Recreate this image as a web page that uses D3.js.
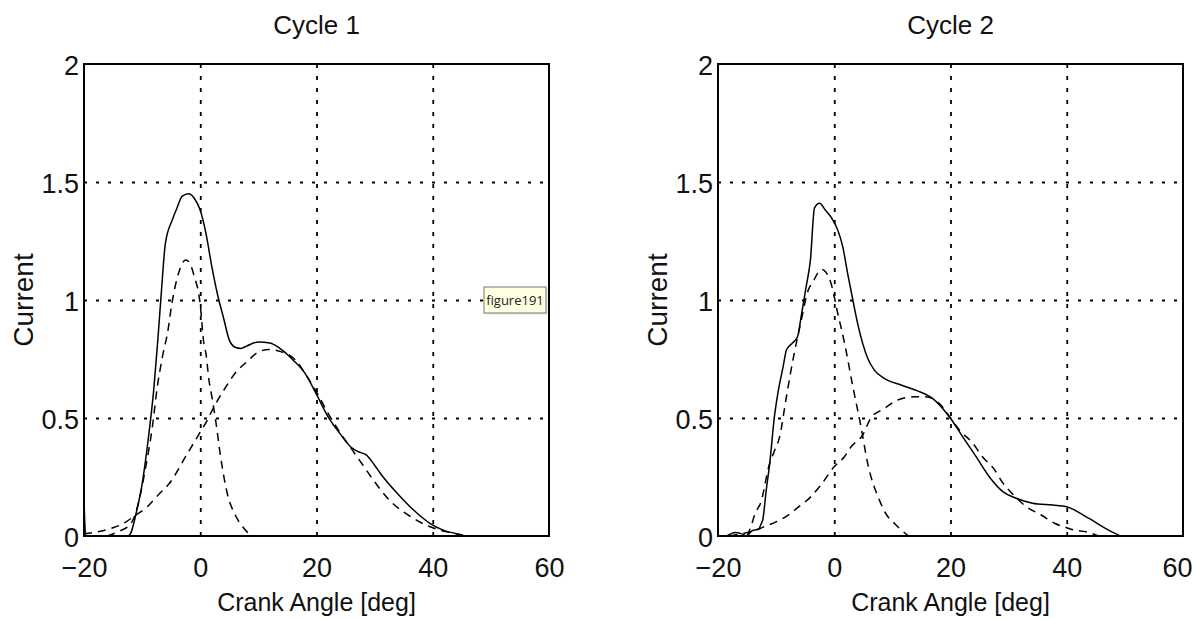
<!DOCTYPE html>
<html><head><meta charset="utf-8">
<script src="https://cdn.jsdelivr.net/npm/d3@7"></script>
<style>body{margin:0;background:#fff}svg{display:block}</style>
</head><body>
<svg id="chart" width="1193" height="619"></svg>
<script>
// ---------- data ----------
const xTickValues = [-20, 0, 20, 40, 60];
const xTickLabels = ["−20", "0", "20", "40", "60"];
const yTickValues = [0, 0.5, 1, 1.5, 2];
const yTickLabels = ["0", "0.5", "1", "1.5", "2"];
const xGridValues = [0, 20, 40];
const yGridValues = [0.5, 1, 1.5];
const panelTitles = ["Cycle 1", "Cycle 2"];
const xAxisLabel = "Crank Angle [deg]";
const yAxisLabel = "Current";
const tooltipText = "figure191";

// Cycle 1
const c1TotalAngle = [-20,-19.7,-18,-16,-14,-12.5,-12,-11,-10,-9,-8,-7.3,-6.7,-6,-4.8,-4,-3.1,-2,-1,0,1,2,3,4,5,6,7,8,10,12,13.7,16,18,20,22,24,26,27.2,28.6,30,31,34,36.7,39.5,41.8,44,45.5];
const c1TotalCurrent = [0.15,0,0,0,0,0,0.01,0.1,0.22,0.4,0.62,0.83,1.03,1.24,1.34,1.39,1.44,1.45,1.43,1.38,1.28,1.14,1.02,0.925,0.83,0.8,0.795,0.805,0.822,0.818,0.795,0.745,0.69,0.6,0.505,0.435,0.375,0.357,0.343,0.3,0.265,0.178,0.11,0.054,0.025,0.01,0];
const c1PeakAngle = [-16,-14,-12,-10.8,-9.4,-8.25,-7.4,-6.5,-5.5,-5.1,-3.65,-2.5,-1.9,-1.1,0,0.6,1,1.5,2,2.65,3.5,4.65,6,7.5,8.8];
const c1PeakCurrent = [0,0.02,0.05,0.124,0.29,0.46,0.63,0.76,0.88,0.95,1.12,1.17,1.16,1.106,0.98,0.82,0.77,0.66,0.59,0.49,0.336,0.18,0.09,0.033,0];
const c1BroadAngle = [-20,-17.7,-15,-13.7,-11,-9.1,-7,-5.4,-2.2,0,1.2,2,4.1,6,8.1,10,11.8,14,16.6,18,20,22,24,26,28,29.7,32.6,34.5,36.7,38.5,40,42,44,46.2];
const c1BroadCurrent = [0.01,0.018,0.035,0.047,0.09,0.124,0.18,0.22,0.35,0.44,0.49,0.53,0.62,0.69,0.74,0.78,0.79,0.78,0.74,0.69,0.61,0.52,0.44,0.37,0.3,0.24,0.15,0.11,0.075,0.05,0.035,0.02,0.01,0];

// Cycle 2
const c2TotalAngle = [-18.5,-17,-16,-15,-14.3,-13,-12.6,-12.3,-11.7,-11.1,-10.3,-9.7,-8.8,-8.2,-7.1,-6.3,-5.7,-4.84,-4.1,-3.4,-2.54,-1.5,-0.26,0.6,1.46,2.3,3.2,4.03,4.9,5.75,6.9,8.6,11.5,14.3,16.9,19.8,22.1,24.4,26.7,29,31.3,34.1,37.6,40,43.3,47.2,49.2];
const c2TotalCurrent = [0,0.015,0.01,0,0.02,0.03,0.05,0.068,0.195,0.308,0.505,0.605,0.717,0.79,0.82,0.845,0.93,1.056,1.17,1.39,1.41,1.38,1.34,1.297,1.226,1.113,1.0,0.9,0.815,0.753,0.703,0.668,0.64,0.615,0.583,0.505,0.42,0.336,0.25,0.188,0.16,0.139,0.131,0.124,0.082,0.025,0];
const c2PeakAngle = [-15,-14.2,-13.7,-12.6,-11.2,-10.3,-9.4,-8.3,-7,-5.8,-4.5,-3.6,-2.2,-1.5,-0.55,0.6,1.75,3.2,4.6,5.75,7.75,9,10.5,11.2,12.8];
const c2PeakCurrent = [0,0.05,0.09,0.145,0.3,0.36,0.42,0.58,0.76,0.9,1.04,1.08,1.13,1.12,1.07,0.944,0.82,0.633,0.463,0.308,0.153,0.09,0.05,0.033,0];
const c2BroadAngle = [-18,-16,-14,-12,-10,-8.3,-6.3,-4,-2.3,0,1.75,2.9,4.9,6.3,8.6,10.9,13.8,15.7,18.6,20,21.5,23.8,25.5,27.6,29,31,33,35.6,37.9,40,41.3,43.3,45.5];
const c2BroadCurrent = [0,0.01,0.02,0.04,0.06,0.082,0.12,0.167,0.216,0.294,0.336,0.378,0.428,0.5,0.54,0.576,0.59,0.59,0.548,0.5,0.45,0.394,0.336,0.28,0.225,0.17,0.125,0.089,0.054,0.035,0.025,0.018,0];

// ---------- drawing ----------
const FONT = "'Liberation Sans', Arial, Helvetica, sans-serif";
const svg = d3.select("#chart");
svg.append("rect").attr("width",1193).attr("height",619).attr("fill","#fff");

const zip = (a, b) => a.map((v, i) => [v, b[i]]);

const panels = [
  { title: panelTitles[0], x0: 84, x1: 549,
    series: [ {d: zip(c1TotalAngle, c1TotalCurrent), dash: null},
              {d: zip(c1PeakAngle, c1PeakCurrent), dash: "8,6"},
              {d: zip(c1BroadAngle, c1BroadCurrent), dash: "8,6"} ] },
  { title: panelTitles[1], x0: 718, x1: 1183,
    series: [ {d: zip(c2TotalAngle, c2TotalCurrent), dash: null},
              {d: zip(c2PeakAngle, c2PeakCurrent), dash: "8,6"},
              {d: zip(c2BroadAngle, c2BroadCurrent), dash: "8,6"} ] }
];
const Y0 = 64, Y1 = 536;

panels.forEach((p, pi) => {
  const x = d3.scaleLinear().domain([-20, 60]).range([p.x0, p.x1]);
  const y = d3.scaleLinear().domain([0, 2]).range([Y1, Y0]);
  const g = svg.append("g");

  // grid
  const gxg = g.append("g").attr("transform", `translate(0,${Y1})`)
    .call(d3.axisBottom(x).tickValues(xGridValues).tickSize(-(Y1 - Y0)).tickFormat(""));
  gxg.select(".domain").remove();
  gxg.selectAll("line").attr("stroke", "#000").attr("stroke-width", 1.8).attr("stroke-dasharray", "4,8");
  const gyg = g.append("g").attr("transform", `translate(${p.x0},0)`)
    .call(d3.axisLeft(y).tickValues(yGridValues).tickSize(-(p.x1 - p.x0)).tickFormat(""));
  gyg.select(".domain").remove();
  gyg.selectAll("line").attr("stroke", "#000").attr("stroke-width", 1.8).attr("stroke-dasharray", "3,9");

  // curves
  const line = d3.line().x(d => x(d[0])).y(d => y(d[1])).curve(d3.curveMonotoneX);
  p.series.forEach(s => {
    g.append("path").attr("d", line(s.d)).attr("fill", "none")
      .attr("stroke", "#000").attr("stroke-width", 1.5)
      .attr("stroke-dasharray", s.dash);
  });

  // box
  g.append("rect").attr("x", p.x0).attr("y", Y0).attr("width", p.x1 - p.x0).attr("height", Y1 - Y0)
    .attr("fill", "none").attr("stroke", "#000").attr("stroke-width", 2);

  // axes labels
  const ax = g.append("g").attr("transform", `translate(0,${Y1})`)
    .call(d3.axisBottom(x).tickValues(xTickValues).tickFormat((d, i) => xTickLabels[i]).tickSize(0));
  ax.select(".domain").remove();
  ax.selectAll("text").attr("y", 41).attr("dy", null)
    .attr("font-size", 27).attr("font-family", FONT).attr("fill", "#111");
  if (pi === 1) {
    ax.selectAll("text").filter(d => d === 60).attr("text-anchor", "end").attr("x", 9);
  }
  const ay = g.append("g").attr("transform", `translate(${p.x0},0)`)
    .call(d3.axisLeft(y).tickValues(yTickValues).tickFormat((d, i) => yTickLabels[i]).tickSize(0));
  ay.select(".domain").remove();
  ay.selectAll("text").attr("x", -5).attr("y", 10).attr("dy", null)
    .attr("font-size", 27).attr("font-family", FONT).attr("fill", "#111");

  // title
  g.append("text").attr("x", (p.x0 + p.x1) / 2).attr("y", 34).attr("text-anchor", "middle")
    .attr("font-size", 26).attr("font-family", FONT).attr("fill", "#111").text(p.title);
  // x label
  g.append("text").attr("x", (p.x0 + p.x1) / 2).attr("y", 611).attr("text-anchor", "middle")
    .attr("font-size", 25).attr("font-family", FONT).attr("fill", "#111").text(xAxisLabel);
  // y label
  g.append("text").attr("transform", `translate(${p.x0 - 51},300) rotate(-90)`)
    .attr("text-anchor", "middle")
    .attr("font-size", 28).attr("font-family", FONT).attr("fill", "#111").text(yAxisLabel);
});

// tooltip overlay
const tip = svg.append("g").attr("transform", "translate(484,287)");
tip.append("rect").attr("x", 1.5).attr("y", 1.5).attr("width", 62).attr("height", 26).attr("fill", "#d8d8d0").attr("opacity", 0.6);
tip.append("rect").attr("width", 62).attr("height", 26).attr("fill", "#ffffe1").attr("stroke", "#767676").attr("stroke-width", 1);
tip.append("text").attr("x", 31).attr("y", 18).attr("text-anchor", "middle")
  .attr("font-size", 13).attr("font-family", "'Open Sans', 'DejaVu Sans', sans-serif").attr("fill", "#222").text(tooltipText);
</script>
</body></html>
